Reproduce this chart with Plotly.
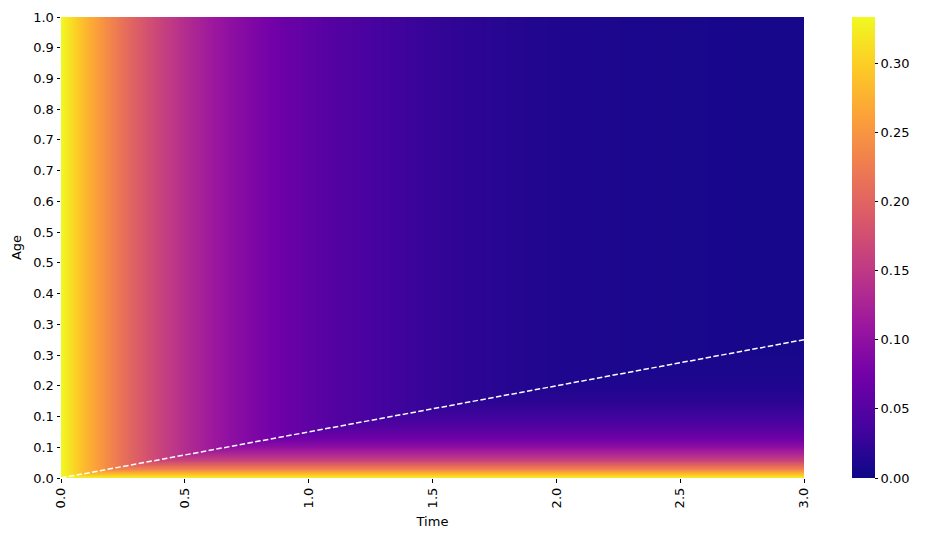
import plotly.graph_objects as go

#### Data ####
# time grid (columns of the heatmap)
times = [0.0, 0.1, 0.2, 0.3, 0.4, 0.5, 0.6, 0.7, 0.8, 0.9, 1.0,
         1.1, 1.2, 1.3, 1.4, 1.5, 1.6, 1.7, 1.8, 1.9, 2.0,
         2.1, 2.2, 2.3, 2.4, 2.5, 2.6, 2.7, 2.8, 2.9, 3.0]
# density read along the top of the chart (depends only on elapsed time)
density = [0.333, 0.278, 0.232, 0.194, 0.162, 0.136, 0.114, 0.096, 0.081, 0.068, 0.058,
           0.049, 0.042, 0.036, 0.031, 0.026, 0.022, 0.019, 0.016, 0.014, 0.012,
           0.011, 0.010, 0.009, 0.0085, 0.008, 0.0075, 0.007, 0.0065, 0.006, 0.0055]
# dashed characteristic line
line_time = [0.0, 3.0]
line_age = [0.0, 0.3]
# y tick labels as printed (rounded ages)
age_ticks = ["0.0", "0.1", "0.1", "0.2", "0.3", "0.3", "0.4", "0.5",
             "0.5", "0.6", "0.7", "0.7", "0.8", "0.9", "0.9", "1.0"]
time_ticks = ["0.0", "0.5", "1.0", "1.5", "2.0", "2.5", "3.0"]
cbar_ticks = ["0.00", "0.05", "0.10", "0.15", "0.20", "0.25", "0.30"]

# rows: ages reached along the characteristic after each time step, plus the top edge
slope = line_age[1] / line_time[1]
ages = [slope * t for t in times] + [1.0]

# table for the heatmap: below the line the value is the one that entered at age 0
z = []
for i in range(len(ages)):
    row = []
    for j in range(len(times)):
        row.append(density[min(i, j)])
    z.append(row)

font = dict(family="DejaVu Sans", size=13, color="black")

heat = go.Heatmap(x=times, y=ages, z=z, colorscale="Plasma", zmin=0, zmax=0.3333,
                  zsmooth="best", hoverinfo="skip",
                  colorbar=dict(x=1.0646, xanchor="left", y=0.5, yanchor="middle",
                                len=1, lenmode="fraction", thickness=23, xpad=0, ypad=0,
                                outlinewidth=0, ticks="outside", ticklen=3.5,
                                tickwidth=0.8, tickcolor="black",
                                tickvals=[0, 0.05, 0.10, 0.15, 0.20, 0.25, 0.30],
                                ticktext=cbar_ticks, tickfont=font))
line = go.Scatter(x=line_time, y=line_age, mode="lines", hoverinfo="skip",
                  line=dict(color="white", width=1.5, dash="5.5px,2.4px"),
                  showlegend=False)

# page body adds 8px, so the figure is 8px smaller and shifted up-left
layout = go.Layout(width=917, height=532,
                   margin=dict(l=53, r=121, t=9, b=62, autoexpand=False),
                   paper_bgcolor="white", plot_bgcolor="white",
                   font=font,
                   xaxis=dict(range=[0, 3], showgrid=False, zeroline=False, showline=False,
                              tickvals=[0, 0.5, 1.0, 1.5, 2.0, 2.5, 3.0], ticktext=time_ticks,
                              tickangle=-90, ticks="outside", ticklen=3.5, tickwidth=0.8,
                              tickcolor="black", tickfont=font,
                              title=dict(text="Time", font=font, standoff=9)),
                   yaxis=dict(range=[0, 1], showgrid=False, zeroline=False, showline=False,
                              tickvals=[k / 15 for k in range(16)], ticktext=age_ticks,
                              ticks="outside", ticklen=3.5, tickwidth=0.8,
                              tickcolor="black", tickfont=font,
                              title=dict(text="Age", font=font, standoff=8)))

fig = go.Figure(data=[heat, line], layout=layout)
fig.write_html("out.html")
